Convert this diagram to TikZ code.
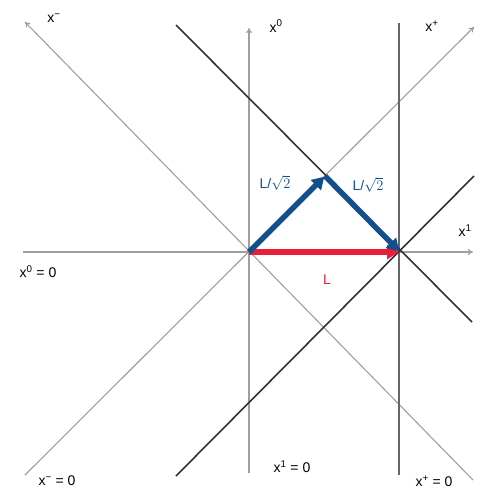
\documentclass[tikz,border=0pt]{standalone}
\usepackage{fontspec}
\setmainfont{Liberation Sans}
\usetikzlibrary{arrows.meta}
\definecolor{vblue}{HTML}{134F8C}
\definecolor{vred}{HTML}{E81E3A}
\begin{document}
\begin{tikzpicture}[x=1pt,y=-1pt,
  thinax/.style={draw=gray!75,line width=1.1pt},
  darkln/.style={draw=black!80,line width=1.6pt},
  midln/.style={draw=gray!80!black,line width=1.4pt},
  axarrow/.style={-{To[length=5pt,width=6pt]}},
  vec/.style={line width=5.5pt,-{Triangle[length=12pt,width=14pt]}},
  lbl/.style={font=\fontsize{14}{16}\selectfont,inner sep=0pt}]
\useasboundingbox (0,0) rectangle (477,490);
\coordinate (O) at (249,252);
\coordinate (A) at (325,176);
\coordinate (P) at (400,252);
% axis end points
\coordinate (x0t) at (249,28);  \coordinate (x0b) at (249,473);
\coordinate (x1l) at (23,252);  \coordinate (x1r) at (473,252);
\coordinate (xpt) at (474,27);  \coordinate (xpb) at (25,475);
\coordinate (xmt) at (25,22);   \coordinate (xmb) at (473,480);
\coordinate (vt) at (399,23);   \coordinate (vb) at (399,475);
\coordinate (d1t) at (176,25);  \coordinate (d1b) at (472,322);
\coordinate (d2t) at (474,176); \coordinate (d2b) at (176,476);
% axes
\draw[thinax,axarrow] (x0b) -- (x0t);
\draw[thinax,axarrow] (x1l) -- (x1r);
\draw[thinax,axarrow] (xpb) -- (xpt);
\draw[thinax,axarrow] (xmb) -- (xmt);
% lines through P
\draw[midln] (vb) -- (vt);
\draw[darkln] (d1t) -- (d1b);
\draw[darkln] (d2b) -- (d2t);
% vectors
\draw[vec,draw=vred,fill=vred,shorten >=1pt] (O) -- (P);
\draw[vec,draw=vblue,fill=vblue,shorten >=1pt] (O) -- (A);
\draw[vec,draw=vblue,fill=vblue,shorten >=1pt] (A) -- (P);
% labels
\node[lbl] (lxm) at (54,18) {x\textsuperscript{−}};
\node[lbl] (lx0) at (276,26) {x\textsuperscript{0}};
\node[lbl] (lxp) at (432,26) {x\textsuperscript{+}};
\node[lbl] (lx1) at (465,231) {x\textsuperscript{1}};
\node[lbl] (lx0z) at (38,272) {x\textsuperscript{0} = 0};
\node[lbl] (lxmz) at (57,481) {x\textsuperscript{−} = 0};
\node[lbl] (lx1z) at (292,467) {x\textsuperscript{1} = 0};
\node[lbl] (lxpz) at (434,481) {x\textsuperscript{+} = 0};
\node[lbl,text=vblue] (la) at (275,183) {L/$\sqrt{2}$};
\node[lbl,text=vblue] (lb) at (368,185) {L/$\sqrt{2}$};
\node[lbl,text=vred] (lc) at (327,280) {L};
\end{tikzpicture}
\end{document}
